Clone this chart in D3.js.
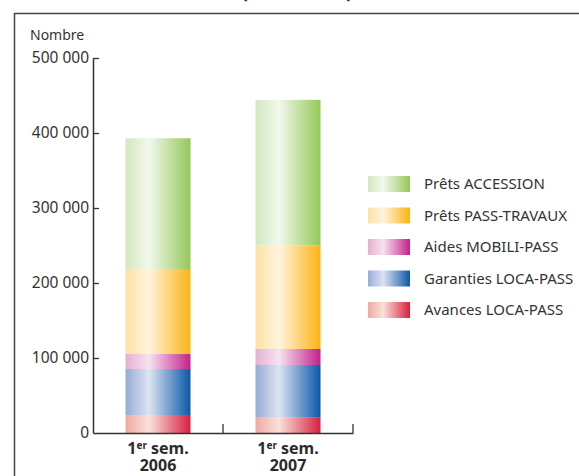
<!DOCTYPE html>
<html>
<head>
<meta charset="utf-8">
<script src="https://cdn.jsdelivr.net/npm/d3@7"></script>
<style>
  body { margin: 0; background: #fff; }
  svg { display: block; font-family: "Noto Sans", "Open Sans", sans-serif; }
</style>
</head>
<body>
<svg id="chart"></svg>
<script>
// categories and series (stack order, bottom to top)
const periods = ["2006", "2007"];
const seriesNames = ["Avances LOCA-PASS", "Garanties LOCA-PASS", "Aides MOBILI-PASS", "Prêts PASS-TRAVAUX", "Prêts ACCESSION"];
const avances = [24000, 20400];
const garanties = [61300, 70300];
const aides = [20000, 21300];
const travaux = [113400, 138200];
const accession = [174300, 194000];
const yTicks = [0, 100000, 200000, 300000, 400000, 500000];

// gradient colours per series: left, light, right
const gradients = [
  ["#efa9a1", "#fae1db", "#d81f3f"],
  ["#95acd7", "#dde4f2", "#0a58a8"],
  ["#e5afd1", "#f7e3ef", "#c2218b"],
  ["#fde1a4", "#fff4de", "#fbb313"],
  ["#d3e8c0", "#f2f8ec", "#94c858"]
];

const width = 579;
const height = 476;
const marginLeft = 93;
const axisRight = 353;
const yTop = 58;
const yBottom = 433;

const rows = periods.map((p, i) => ({
  period: p,
  [seriesNames[0]]: avances[i],
  [seriesNames[1]]: garanties[i],
  [seriesNames[2]]: aides[i],
  [seriesNames[3]]: travaux[i],
  [seriesNames[4]]: accession[i]
}));

const series = d3.stack().keys(seriesNames)(rows);

const x = d3.scaleBand()
  .domain(periods)
  .range([marginLeft, axisRight])
  .paddingInner(0.5)
  .paddingOuter(0.25);

const y = d3.scaleLinear()
  .domain([0, 500000])
  .range([yBottom, yTop]);

const fr = d3.formatLocale({ decimal: ",", thousands: " ", grouping: [3], currency: ["", " €"] });
const fmt = fr.format(",");

const svg = d3.select("#chart")
  .attr("width", width)
  .attr("height", height)
  .attr("viewBox", [0, 0, width, height]);

// gradients
const defs = svg.append("defs");
gradients.forEach((g, i) => {
  const lg = defs.append("linearGradient")
    .attr("id", "grad" + i)
    .attr("x1", "0%").attr("x2", "100%")
    .attr("y1", "0%").attr("y2", "0%");
  lg.append("stop").attr("offset", "0%").attr("stop-color", g[0]);
  lg.append("stop").attr("offset", "36%").attr("stop-color", g[1]);
  lg.append("stop").attr("offset", "100%").attr("stop-color", g[2]);
});

// title, cut off by the top edge of the picture
svg.append("text")
  .attr("x", 297)
  .attr("y", -2)
  .attr("text-anchor", "middle")
  .attr("font-size", 20)
  .attr("font-weight", "bold")
  .attr("fill", "#333")
  .text("(2006-2007)");

// frame
svg.append("rect")
  .attr("x", 14.5)
  .attr("y", 13.5)
  .attr("width", 600)
  .attr("height", 500)
  .attr("fill", "none")
  .attr("stroke", "#444")
  .attr("stroke-width", 1.5);

// bars
svg.append("g")
  .selectAll("g")
  .data(series)
  .join("g")
    .attr("fill", (d, i) => `url(#grad${i})`)
  .selectAll("rect")
  .data(d => d)
  .join("rect")
    .attr("x", d => x(d.data.period))
    .attr("width", x.bandwidth())
    .attr("y", d => y(d[1]))
    .attr("height", d => y(d[0]) - y(d[1]));

// y axis
svg.append("g")
  .attr("transform", `translate(${marginLeft},0)`)
  .call(d3.axisLeft(y).tickValues(yTicks).tickFormat(fmt).tickSizeInner(-6).tickSizeOuter(0).tickPadding(4))
  .call(g => g.select(".domain").attr("stroke", "#333").attr("stroke-width", 1.5))
  .call(g => g.selectAll(".tick line").attr("stroke", "#333").attr("stroke-width", 1.3))
  .call(g => g.selectAll(".tick").filter(d => d === 0).select("line").remove())
  .call(g => g.selectAll(".tick text")
    .attr("font-size", 15.5)
    .attr("fill", "#333")
    .attr("font-family", "Noto Sans, sans-serif"));

svg.append("text")
  .attr("x", 30)
  .attr("y", 40)
  .attr("font-size", 14)
  .attr("fill", "#333")
  .text("Nombre");

// x axis
const xAxis = svg.append("g")
  .attr("transform", `translate(0,${yBottom})`)
  .call(d3.axisBottom(x).tickSize(0).tickFormat(""))
  .call(g => g.select(".domain").attr("stroke", "#333").attr("stroke-width", 1.5));

xAxis.selectAll(".sep")
  .data(periods)
  .join("line")
    .attr("class", "sep")
    .attr("x1", d => x(d) + x.bandwidth() + x.step() * x.paddingInner() / 2)
    .attr("x2", d => x(d) + x.bandwidth() + x.step() * x.paddingInner() / 2)
    .attr("y1", 0)
    .attr("y2", -9)
    .attr("stroke", "#333")
    .attr("stroke-width", 1.3);

// two-line category labels, "1er" with superscript
const labels = svg.append("g")
  .selectAll("text")
  .data(periods)
  .join("text")
    .attr("text-anchor", "middle")
    .attr("font-size", 16)
    .attr("font-weight", "bold")
    .attr("fill", "#2b2b2b");

labels.append("tspan")
  .attr("x", d => x(d) + x.bandwidth() / 2)
  .attr("y", 454)
  .text("1");
labels.append("tspan")
  .attr("font-size", 10)
  .attr("dy", -5)
  .text("er");
labels.append("tspan")
  .attr("dy", 5)
  .text(" sem.");
labels.append("tspan")
  .attr("x", d => x(d) + x.bandwidth() / 2)
  .attr("y", 471)
  .text(d => d);

// legend
const legendNames = seriesNames.slice().reverse();
const legend = svg.append("g")
  .selectAll("g")
  .data(legendNames)
  .join("g")
    .attr("transform", (d, i) => `translate(368,${176 + i * 31.5})`);

legend.append("rect")
  .attr("width", 42)
  .attr("height", 16)
  .attr("fill", d => `url(#grad${seriesNames.indexOf(d)})`);

legend.append("text")
  .attr("x", 56)
  .attr("y", 13)
  .attr("font-size", 15)
  .attr("fill", "#333")
  .text(d => d);
</script>
</body>
</html>
